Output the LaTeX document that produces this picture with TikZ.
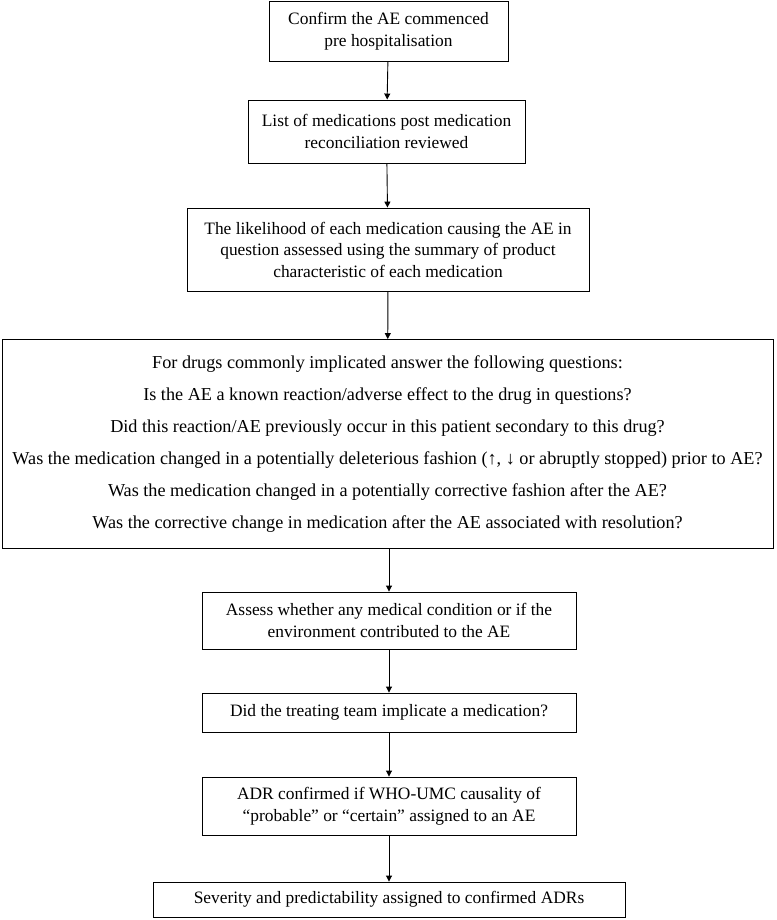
\documentclass[tikz,border=0pt]{standalone}
\usepackage{fontspec}
\setmainfont{Liberation Serif}
\usetikzlibrary{arrows.meta}
\begin{document}
\begin{tikzpicture}[x=1pt,y=-1pt,>={Triangle[length=6pt,width=6pt]},
  every node/.style={inner sep=0pt},
  stepbox/.style={draw,line width=0.9pt,align=center,
    font=\fontsize{17.4}{21.5}\selectfont},
  link/.style={->,line width=0.9pt}]
  \useasboundingbox (0,0) rectangle (776,920);
  \node[stepbox,minimum width=239,minimum height=60] (confirm) at (388.5,31)
    {Confirm the AE commenced\\pre hospitalisation};
  \node[stepbox,minimum width=277,minimum height=63] (list) at (386.5,131.5)
    {List of medications post medication\\reconciliation reviewed};
  \node[stepbox,minimum width=402,minimum height=83] (likely) at (388,249.5)
    {The likelihood of each medication causing the AE in\\question assessed using the summary of product\\characteristic of each medication};
  \node[stepbox,minimum width=771,minimum height=209,
    font=\fontsize{18.2}{32}\selectfont] (questions) at (387.5,444)
    {For drugs commonly implicated answer the following questions:\\
     Is the AE a known reaction/adverse effect to the drug in questions?\\
     Did this reaction/AE previously occur in this patient secondary to this drug?\\
     Was the medication changed in a potentially deleterious fashion (↑, ↓ or abruptly stopped) prior to AE?\\
     Was the medication changed in a potentially corrective fashion after the AE?\\
     Was the corrective change in medication after the AE associated with resolution?};
  \node[stepbox,minimum width=374,minimum height=57] (assess) at (389,620.5)
    {Assess whether any medical condition or if the\\environment contributed to the AE};
  \node[stepbox,minimum width=374,minimum height=39] (team) at (389,712.5)
    {Did the treating team implicate a medication?};
  \node[stepbox,minimum width=374,minimum height=58] (adr) at (389,806)
    {ADR confirmed if WHO-UMC causality of\\“probable” or “certain” assigned to an AE};
  \node[stepbox,minimum width=472,minimum height=35] (severity) at (389,899.5)
    {Severity and predictability assigned to confirmed ADRs};
  \draw[link] (confirm) -- (list);
  \draw[link] (list) -- (likely);
  \draw[link] (likely) -- (questions);
  \draw[link] (questions.south -| assess.north) -- (assess);
  \draw[link] (assess) -- (team);
  \draw[link] (team) -- (adr);
  \draw[link] (adr) -- (severity);
\end{tikzpicture}
\end{document}
